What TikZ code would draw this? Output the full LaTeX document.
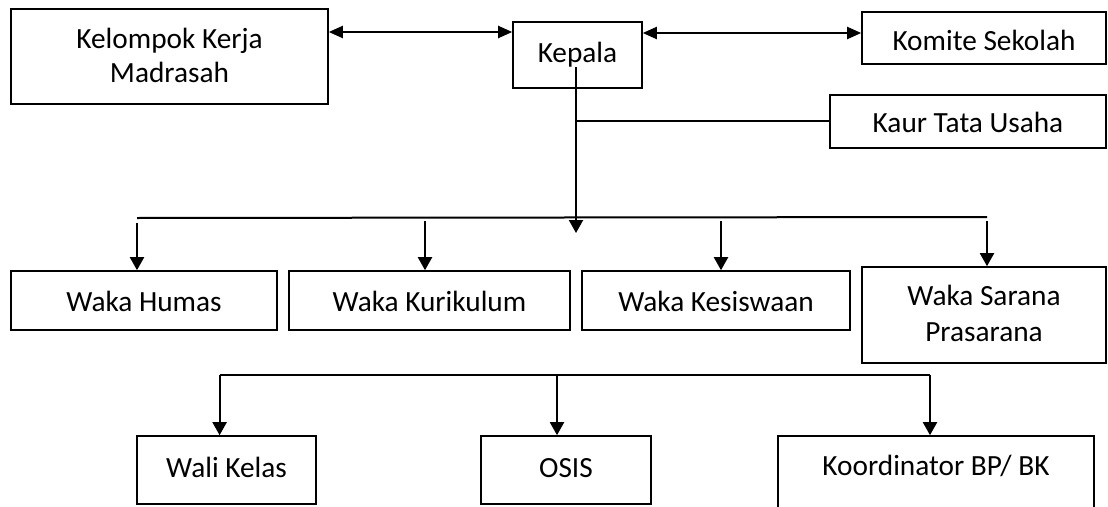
\documentclass[tikz,border=0pt]{standalone}
\usepackage{fontspec}
\setmainfont{Carlito}
\usetikzlibrary{arrows.meta}
\tikzset{
  box/.style={draw, line width=1.6pt, inner sep=0pt, fill=white},
  lbl/.style={inner sep=0pt, anchor=base, font=\fontsize{29.3}{34}\selectfont},
  conn/.style={line width=2pt},
  arr/.style={line width=2pt, -{Triangle[length=13pt,width=14pt]}},
  biarr/.style={line width=2pt, {Triangle[length=14pt,width=12pt]}-{Triangle[length=14pt,width=12pt]}}
}
\newcommand\mkbox[5]{\node[box,minimum width={#4-#2},minimum height={#5-#3}] (#1) at ({(#2+#4)/2},{(#3+#5)/2}) {};}
\begin{document}
\begin{tikzpicture}[x=1pt,y=-1pt]
\useasboundingbox (0,0) rectangle (1108,506);
\clip (0,0) rectangle (1108,506);
\fill[white] (0,0) rectangle (1108,506);
% boxes
\mkbox{kkm}{11}{9}{328}{104}
\mkbox{kepala}{513}{22}{642}{88}
\mkbox{komite}{862}{12}{1106}{64}
\mkbox{kaur}{830}{95}{1106}{148}
\mkbox{humas}{11}{271}{277}{330}
\mkbox{kurikulum}{289}{271}{570}{330}
\mkbox{kesiswaan}{582}{271}{850}{330}
\mkbox{sarana}{862}{267}{1106}{363}
\mkbox{wali}{137}{436}{316}{504}
\mkbox{osis}{481}{436}{651}{504}
\mkbox{koord}{778}{436}{1094}{530}
% labels
\node[lbl] (kkm-a) at (kkm.center |- 0,48) {Kelompok Kerja};
\node[lbl] (kkm-b) at (kkm.center |- 0,82) {Madrasah};
\node[lbl] (kepala-t) at (kepala.center |- 0,62) {Kepala};
\node[lbl] (komite-t) at (komite.center |- 0,50) {Komite Sekolah};
\node[lbl] (kaur-t) at (kaur.center |- 0,132) {Kaur Tata Usaha};
\node[lbl] (humas-t) at (humas.center |- 0,311) {Waka Humas};
\node[lbl] (kurikulum-t) at (kurikulum.center |- 0,311) {Waka Kurikulum};
\node[lbl] (kesiswaan-t) at (kesiswaan.center |- 0,311) {Waka Kesiswaan};
\node[lbl] (sarana-a) at (sarana.center |- 0,305) {Waka Sarana};
\node[lbl] (sarana-b) at (sarana.center |- 0,341) {Prasarana};
\node[lbl] (wali-t) at (wali.center |- 0,477) {Wali Kelas};
\node[lbl] (osis-t) at (osis.center |- 0,477) {OSIS};
\node[lbl] (koord-t) at (koord.center |- 0,475) {Koordinator BP/ BK};
% top connectors
\draw[biarr] (kkm.east |- 0,32) -- (kepala.west |- 0,32);
\draw[biarr] (kepala.east |- 0,33) -- (komite.west |- 0,33);
\coordinate (kv-top) at (576,67);
\coordinate (kv-bot) at (576,233);
\coordinate (kv-mid) at (576,121);
\draw[arr] (kv-top) -- (kv-bot);
\draw[conn] (kv-mid) -- (kaur.west |- kv-mid);
% upper bus
\coordinate (bus-l) at (137,218);
\coordinate (bus-r) at (987,217);
\draw[conn] (bus-l) -- (bus-r);
\draw[arr] (137,223) -- (137,0 |- humas.north);
\draw[arr] (425,221) -- (425,0 |- kurikulum.north);
\draw[arr] (721,221) -- (721,0 |- kesiswaan.north);
\draw[arr] (987,221) -- (987,0 |- sarana.north);
% lower bus
\coordinate (lb-l) at (219.6,375);
\coordinate (lb-m) at (557,375);
\coordinate (lb-r) at (930,375);
\draw[conn] (lb-l) -- (lb-r);
\draw[arr] (lb-l) -- (lb-l |- wali.north);
\draw[arr] (lb-m) -- (lb-m |- osis.north);
\draw[arr] (lb-r) -- (lb-r |- koord.north);
\end{tikzpicture}
\end{document}
